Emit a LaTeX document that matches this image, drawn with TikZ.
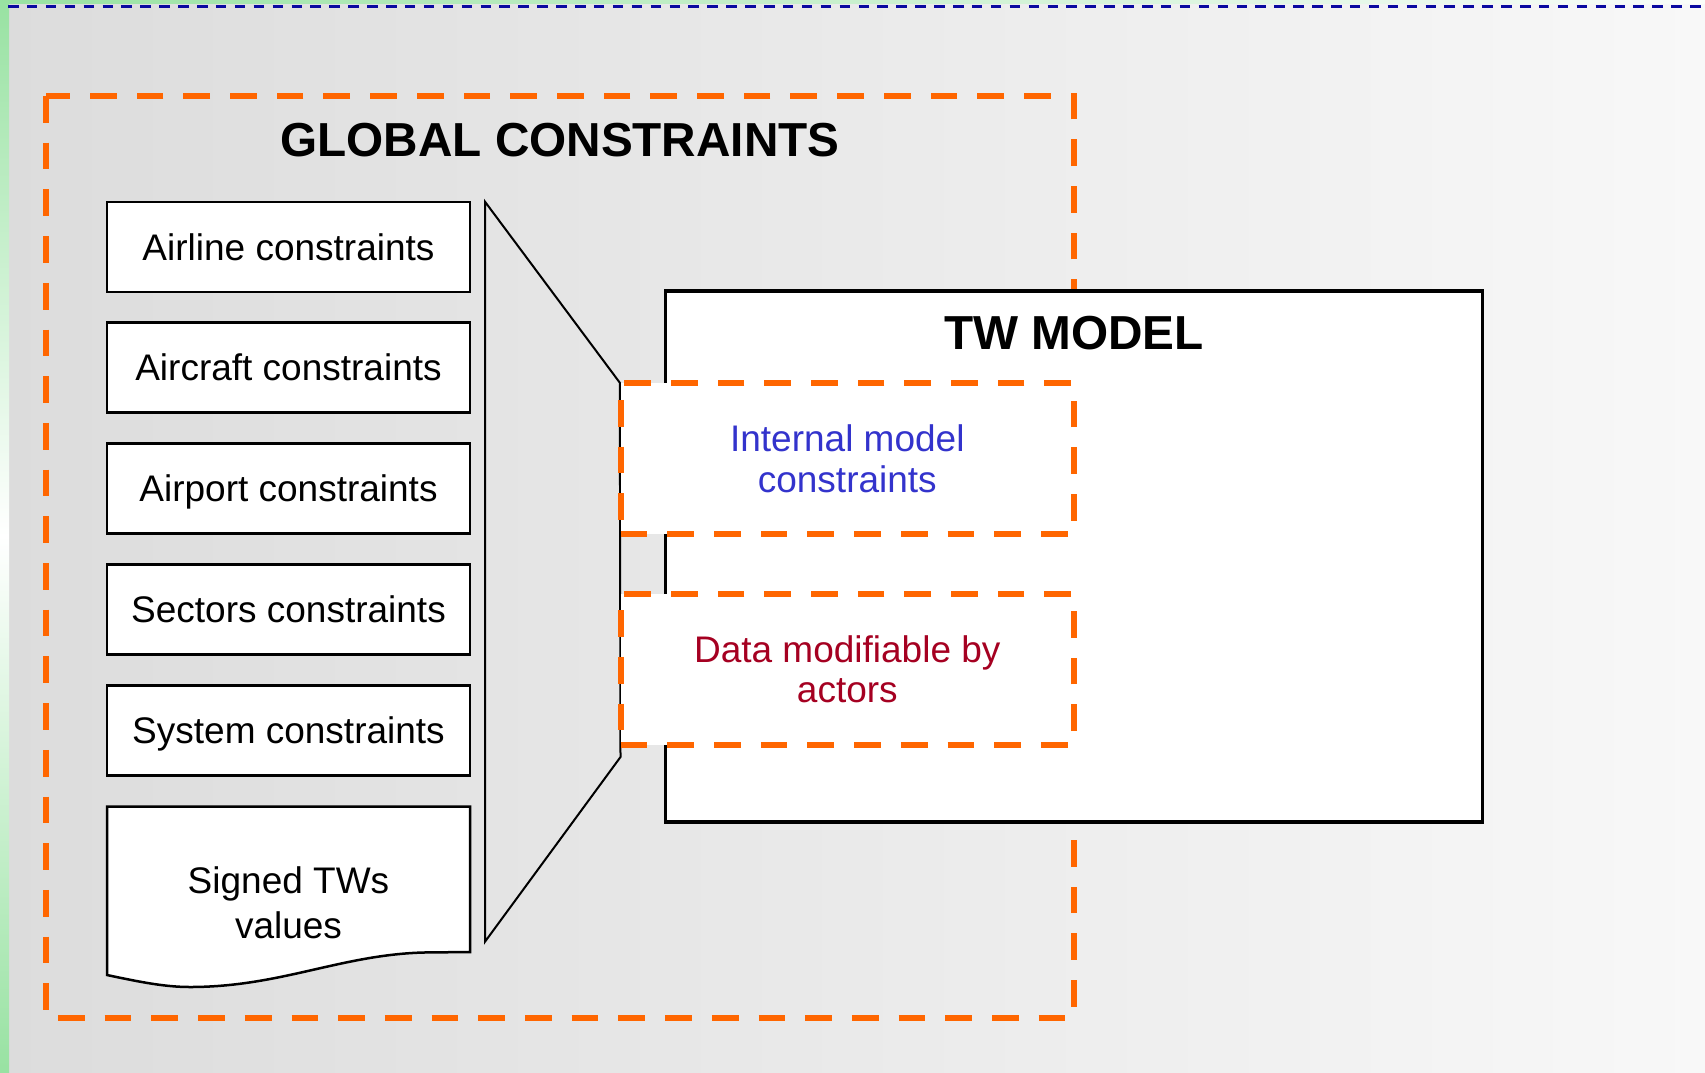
\documentclass[tikz,border=0pt]{standalone}
\usepackage{fontspec}
\setmainfont{Liberation Sans}
\definecolor{gcorange}{HTML}{FF6600}
\definecolor{gcblue}{HTML}{3333CC}
\definecolor{gcred}{HTML}{A50021}
\definecolor{gcdash}{HTML}{0A0AA0}
\definecolor{gcgreen}{HTML}{98E2A2}
\definecolor{gcbgl}{HTML}{DCDCDC}
\definecolor{gcbgr}{HTML}{F8F8F8}
\begin{document}
\begin{tikzpicture}[x=1pt,y=-1pt,
  odash/.style={draw=gcorange, line width=6pt, dash pattern=on 26.7pt off 20pt},
  cbox/.style={draw=black, line width=2.5pt, fill=white, minimum width=363pt, minimum height=90pt, inner sep=0pt, text height=26.5pt, text depth=0pt, font=\fontsize{37}{42}\selectfont},
  titlefont/.style={font=\fontsize{47.7}{55}\selectfont\bfseries},
  obox/.style={odash, fill=white, minimum width=453.3pt, minimum height=151pt, inner sep=0pt, align=center},
  funnel/.style={draw=black, line width=2pt, line join=miter}
]
\useasboundingbox (0,0) rectangle (1705,1072);
% background
\shade[left color=gcbgl, right color=gcbgr] (0,0) rectangle (1705,1072);
\shade[left color=gcgreen, right color=white!95!gcgreen] (0,0) rectangle (1705,3);
\shade[top color=gcgreen, bottom color=gcgreen, middle color=white] (0,0) rectangle (9,1072);
\draw[gcdash, line width=2.5pt, dash pattern=on 10.5pt off 8.4pt] (8,6.3) -- (1705,6.3);

% global constraints frame
\draw[odash] (46,96) rectangle (1074,1018);
\node[titlefont] (gtitle) at (560,139.7) {GLOBAL CONSTRAINTS};

% funnel
\coordinate (f1) at (485,201.7);
\coordinate (f2) at (619.8,382.7);
\coordinate (f3) at (620.5,757);
\coordinate (f4) at (485,941.7);
\draw[funnel] (f1) -- (f2) -- (f3) -- (f4) -- cycle;

% constraint boxes
\node[cbox] (airline) at (288.5,246.9) {Airline constraints};
\node[cbox] (aircraft) at (288.5,367.6) {Aircraft constraints};
\node[cbox] (airport) at (288.5,488.4) {Airport constraints};
\node[cbox] (sectors) at (288.5,609.3) {Sectors constraints};
\node[cbox] (system) at (288.5,730.5) {System constraints};

% document shape
\draw[black, line width=2.5pt, fill=white] (107,806.7) -- (470,806.7) -- (470,952) -- (423,952.5)
  .. controls (340,955) and (280,987) .. (190,987)
  .. controls (165,987) and (140,982) .. (107,975) -- cycle;
\node[font=\fontsize{37}{45}\selectfont, align=center] (signed) at (288.5,902.4) {Signed TWs\\values};

% TW model
\node[draw=black, line width=3.5pt, fill=white, minimum width=816.8pt, minimum height=531pt, inner sep=0pt] (tw) at (1073.9,556.5) {};
\node[titlefont] (twtitle) at (1074,333) {TW MODEL};

% internal boxes
\node[obox, text=gcblue, font=\fontsize{37}{41}\selectfont] (internal) at (847.3,458.8) {Internal model\\constraints};
\node[obox, text=gcred, font=\fontsize{37}{40.5}\selectfont] (data) at (847.3,669.2) {Data modifiable by\\actors};
\end{tikzpicture}
\end{document}
